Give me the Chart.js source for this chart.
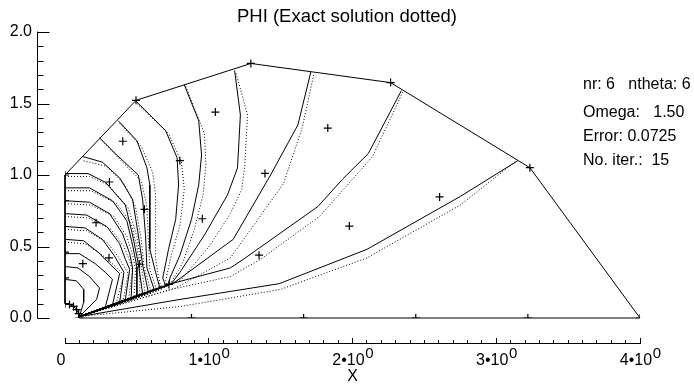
<!DOCTYPE html>
<html><head><meta charset="utf-8">
<script src="https://cdn.jsdelivr.net/npm/chart.js@4.4.1/dist/chart.umd.min.js"></script>
<style>html,body{margin:0;padding:0;background:#fff;}#wrap{width:694px;height:384px;}</style>
</head><body><div id="wrap"><canvas id="c" width="694" height="384"></canvas></div>
<script>
const titleText = 'PHI (Exact solution dotted)';
const xAxisTitle = 'X';
const xTickValues = [0, 1, 2, 3, 4];
const xTickLabels = ['0', '1•10', '2•10', '3•10', '4•10'];
const xTickExponents = ['', '0', '0', '0', '0'];
const yTickValues = [0, 0.5, 1, 1.5, 2];
const yTickLabels = ['0.0', '0.5', '1.0', '1.5', '2.0'];
const infoLines = ['nr: 6   ntheta: 6', 'Omega:   1.50', 'Error: 0.0725', 'No. iter.:  15'];

// grid nodes (+ marks)
const gridX = [0.10,0.88,1.66,2.44,3.22,4.00, 0.095,0.723,1.350,1.978,2.606,3.234, 0.081,0.518,0.955,1.391,1.828,2.265,
               0.059,0.306,0.553,0.799,1.046,1.293, 0.031,0.124,0.216,0.309,0.402,0.494, 0,0,0,0,0,0];
const gridY = [0,0,0,0,0,0, 0.031,0.235,0.439,0.643,0.847,1.051, 0.059,0.376,0.694,1.011,1.328,1.646,
               0.081,0.421,0.760,1.100,1.440,1.780, 0.095,0.380,0.666,0.951,1.236,1.522, 0.10,0.28,0.46,0.64,0.82,1.00];

// domain boundary
const boundaryX = [0.10,4.00,3.234,2.265,1.293,0.494,0,0,0.031,0.059,0.081,0.095,0.10];
const boundaryY = [0,0,1.051,1.646,1.780,1.522,1.00,0.10,0.095,0.081,0.059,0.031,0];

// computed solution contours (solid)
const solidContours = [
  [[0.10,0.01],[0.80,0.13],[1.49,0.24],[2.10,0.48],[2.75,0.85],[3.15,1.10]],
  [[2.34,1.59],[2.11,1.15],[1.93,0.97],[1.76,0.78],[1.24,0.41],[1.15,0.35],[0.74,0.24],[0.10,0.01]],
  [[1.71,1.72],[1.62,1.35],[1.43,1.00],[1.17,0.55],[0.75,0.24],[0.10,0.01]],
  [[1.18,1.73],[1.22,1.42],[1.20,1.05],[1.13,0.86],[0.97,0.58],[0.80,0.32],[0.74,0.24],[0.10,0.01]],
  [[0.83,1.63],[0.93,1.38],[0.95,1.14],[0.93,0.93],[0.88,0.69],[0.80,0.44],[0.73,0.28],[0.72,0.23],[0.10,0.01]],
  [[0.49,1.52],[0.70,1.31],[0.78,1.12],[0.79,0.93],[0.77,0.69],[0.72,0.48],[0.68,0.28],[0.70,0.225],[0.10,0.01]],
  [[0.37,1.38],[0.50,1.24],[0.57,1.05],[0.59,0.93],[0.59,0.69],[0.59,0.48],[0.63,0.32],[0.66,0.21],[0.10,0.01]],
  [[0.24,1.26],[0.36,1.14],[0.51,1.00],[0.54,0.83],[0.56,0.58],[0.57,0.35],[0.62,0.20],[0.10,0.01]],
  [[0.12,1.13],[0.26,1.09],[0.38,0.98],[0.47,0.83],[0.51,0.58],[0.54,0.37],[0.58,0.18],[0.10,0.01]],
  [[0,1.01],[0.16,1.01],[0.28,0.95],[0.42,0.79],[0.47,0.58],[0.51,0.38],[0.54,0.17],[0.10,0.01]],
  [[0,0.91],[0.17,0.91],[0.33,0.82],[0.43,0.68],[0.47,0.51],[0.50,0.36],[0.50,0.155],[0.10,0.01]],
  [[0,0.82],[0.17,0.81],[0.31,0.73],[0.40,0.59],[0.45,0.45],[0.47,0.35],[0.46,0.14],[0.10,0.01]],
  [[0,0.73],[0.15,0.72],[0.29,0.64],[0.38,0.52],[0.42,0.41],[0.45,0.34],[0.42,0.13],[0.10,0.01]],
  [[0,0.64],[0.14,0.63],[0.26,0.55],[0.34,0.44],[0.41,0.32],[0.38,0.11],[0.10,0.01]],
  [[0,0.55],[0.13,0.54],[0.23,0.46],[0.31,0.38],[0.38,0.31],[0.33,0.09],[0.10,0.01]],
  [[0,0.45],[0.10,0.45],[0.21,0.38],[0.28,0.32],[0.33,0.27],[0.28,0.075],[0.10,0.01]],
  [[0,0.36],[0.09,0.35],[0.17,0.29],[0.24,0.21],[0.22,0.13],[0.10,0.01]],
  [[0,0.27],[0.08,0.26],[0.13,0.20],[0.13,0.11],[0.10,0.01]]
];

// exact solution contours (dotted)
const dottedContours = [
  [[0.10,0.01],[0.80,0.08],[1.50,0.20],[2.10,0.42],[2.75,0.79],[3.14,1.10]],
  [[2.35,1.58],[2.14,1.13],[2.00,0.97],[1.77,0.71],[1.36,0.41],[1.15,0.29],[0.74,0.20],[0.10,0.01]],
  [[1.73,1.70],[1.65,1.33],[1.52,0.94],[1.15,0.42],[0.77,0.21],[0.10,0.01]],
  [[1.19,1.71],[1.27,1.42],[1.25,1.06],[1.23,0.90],[1.15,0.73],[1.01,0.51],[0.81,0.27],[0.10,0.01]],
  [[0.84,1.62],[0.97,1.29],[0.98,1.07],[0.96,0.86],[0.90,0.62],[0.82,0.39],[0.74,0.25],[0.10,0.01]],
  [[0.50,1.50],[0.72,1.29],[0.81,1.09],[0.83,0.90],[0.80,0.65],[0.74,0.44],[0.70,0.26],[0.71,0.22],[0.10,0.01]],
  [[0.38,1.36],[0.53,1.20],[0.61,1.02],[0.63,0.86],[0.63,0.62],[0.63,0.42],[0.65,0.29],[0.67,0.20],[0.10,0.01]],
  [[0.26,1.24],[0.39,1.10],[0.53,0.96],[0.57,0.78],[0.58,0.55],[0.59,0.34],[0.64,0.19],[0.10,0.01]],
  [[0.13,1.10],[0.29,1.06],[0.41,0.94],[0.49,0.78],[0.53,0.55],[0.55,0.36],[0.60,0.175],[0.10,0.01]],
  [[0,0.99],[0.17,0.99],[0.30,0.93],[0.44,0.77],[0.50,0.57],[0.53,0.37],[0.56,0.16],[0.10,0.01]],
  [[0,0.89],[0.18,0.89],[0.36,0.80],[0.46,0.66],[0.50,0.50],[0.52,0.35],[0.52,0.15],[0.10,0.01]],
  [[0,0.80],[0.18,0.79],[0.34,0.71],[0.43,0.57],[0.47,0.44],[0.49,0.34],[0.48,0.135],[0.10,0.01]],
  [[0,0.71],[0.16,0.70],[0.32,0.62],[0.41,0.50],[0.45,0.40],[0.47,0.33],[0.44,0.12],[0.10,0.01]],
  [[0,0.62],[0.15,0.61],[0.29,0.53],[0.37,0.43],[0.44,0.31],[0.40,0.105],[0.10,0.01]],
  [[0,0.53],[0.14,0.52],[0.26,0.44],[0.34,0.37],[0.41,0.30],[0.35,0.085],[0.10,0.01]]
];

const yAxisAtX = -0.195;   // where the y axis line sits (x data units)
const xAxisAtY = -0.177;   // where the x axis line sits (y data units)

const FONT = '"Liberation Sans", Arial, Helvetica, sans-serif';
Chart.defaults.font.family = FONT;
Chart.defaults.color = '#000';

const lineDs = (pts, dashed) => ({
  data: pts.map(p => ({x: p[0], y: p[1]})),
  showLine: true, borderColor: '#000', backgroundColor: '#000', borderWidth: 1,
  borderDash: dashed ? [1, 2] : [], pointRadius: 0, tension: 0, clip: false,
  xAxisID: 'x', yAxisID: 'y'
});

const datasets = [];
datasets.push(lineDs(boundaryX.map((x, i) => [x, boundaryY[i]]), false));
solidContours.forEach(c => datasets.push(lineDs(c, false)));
dottedContours.forEach(c => datasets.push(lineDs(c, true)));
datasets.push({
  data: gridX.map((x, i) => ({x, y: gridY[i]})),
  showLine: false, pointStyle: 'cross', pointRadius: 4, pointBorderWidth: 1.2,
  borderColor: '#000', backgroundColor: '#000',
  clip: {left: 0, right: 0, bottom: 0, top: 10}, xAxisID: 'x', yAxisID: 'y'
});

// y axis line + inward ticks, positioned through the chart's own scales
const yAxisPlugin = {
  id: 'yAxisDraw',
  afterDraw(chart) {
    const ctx = chart.ctx;
    const xs = chart.scales.x, ys = chart.scales.y, ym = chart.scales.yMinor;
    const ax = Math.round(xs.getPixelForValue(yAxisAtX)) + 0.5;
    ctx.save();
    ctx.strokeStyle = '#000';
    ctx.lineWidth = 1;
    ctx.beginPath();
    ctx.moveTo(ax, ys.getPixelForValue(ys.min) + 0.5);
    ctx.lineTo(ax, ys.getPixelForValue(ys.max) - 0.5);
    ym.ticks.forEach(t => {
      const py = Math.round(ys.getPixelForValue(t.value)) + 0.5;
      ctx.moveTo(ax, py); ctx.lineTo(ax + 6, py);
    });
    yTickValues.forEach(v => {
      const py = Math.round(ys.getPixelForValue(v)) + 0.5;
      ctx.moveTo(ax, py); ctx.lineTo(ax + 12, py);
    });
    ctx.stroke();
    ctx.restore();
  }
};

const textPlugin = {
  id: 'extraText',
  afterDraw(chart) {
    const ctx = chart.ctx;
    const xs = chart.scales.x;
    ctx.save();
    ctx.fillStyle = '#000';
    xTickValues.forEach((v, i) => {
      if (!xTickExponents[i]) return;
      ctx.font = '16px ' + FONT;
      const w = ctx.measureText(xTickLabels[i]).width;
      const px = xs.getPixelForValue(v) - 4 + w / 2 + 0.5;
      ctx.font = '15px ' + FONT;
      ctx.textAlign = 'left';
      ctx.textBaseline = 'alphabetic';
      ctx.fillText(xTickExponents[i], px, 358);
    });
    ctx.font = '16px ' + FONT;
    ctx.textAlign = 'left';
    ctx.textBaseline = 'alphabetic';
    const baselines = [89, 116.5, 140.5, 164.5];
    infoLines.forEach((t, i) => ctx.fillText(t, 583, baselines[i]));
    ctx.restore();
  }
};

const zeroPad = s => { s.paddingTop = 0; s.paddingBottom = 0; s.paddingLeft = 0; s.paddingRight = 0; };

new Chart(document.getElementById('c'), {
  type: 'scatter',
  data: {datasets},
  options: {
    responsive: false, animation: false, devicePixelRatio: 1, events: [],
    layout: {padding: {left: 0, right: 0, top: 0, bottom: 66}},
    plugins: {
      legend: {display: false}, tooltip: {enabled: false},
      title: {display: true, text: titleText, color: '#000',
              font: {size: 18.5, weight: 'normal', family: FONT}, padding: {top: 6, bottom: 3.8}}
    },
    scales: {
      x: {
        axis: 'x', type: 'linear', min: 0, max: 4, position: {y: xAxisAtY},
        border: {display: true, color: '#000', width: 1},
        grid: {display: true, drawOnChartArea: false, drawTicks: true, tickLength: -6, color: '#000', lineWidth: 1},
        afterBuildTicks: s => { s.ticks = xTickValues.map(v => ({value: v})); },
        ticks: {autoSkip: false, maxRotation: 0, color: '#000', font: {size: 16}, padding: 14, labelOffset: -4,
                callback: (v, i) => xTickLabels[i]},
        title: {display: true, text: xAxisTitle, color: '#000', font: {size: 16}, padding: 0},
        afterFit: s => { s.height = 42.8; zeroPad(s); }
      },
      xMinor: {
        axis: 'x', type: 'linear', min: 0, max: 4, position: {y: xAxisAtY},
        border: {display: false},
        grid: {display: true, drawOnChartArea: false, drawTicks: true, tickLength: -3, color: '#000', lineWidth: 1},
        ticks: {display: false, stepSize: 0.1, maxTicksLimit: 100, autoSkip: false},
        afterFit: s => { s.height = 0; zeroPad(s); }
      },
      y: {
        axis: 'y', type: 'linear', min: 0, max: 2, position: 'left', display: false
      },
      yMinor: {
        axis: 'y', type: 'linear', min: 0, max: 2, position: 'left', display: false,
        ticks: {stepSize: 0.1, maxTicksLimit: 100, autoSkip: false}
      },
      yLabels: {
        axis: 'y', type: 'linear', min: 0, max: 2, position: 'left',
        border: {display: false}, grid: {display: false, drawTicks: false},
        afterBuildTicks: s => { s.ticks = yTickValues.map(v => ({value: v})); },
        ticks: {color: '#000', font: {size: 16}, padding: 33, callback: (v, i) => yTickLabels[i]},
        afterFit: s => { s.width = 65; zeroPad(s); }
      },
      yRight: {
        axis: 'y', type: 'linear', min: 0, max: 2, position: 'right',
        border: {display: false}, grid: {display: false, drawTicks: false},
        ticks: {display: false},
        afterFit: s => { s.width = 54; zeroPad(s); }
      }
    }
  },
  plugins: [yAxisPlugin, textPlugin]
});
</script>
</body></html>
